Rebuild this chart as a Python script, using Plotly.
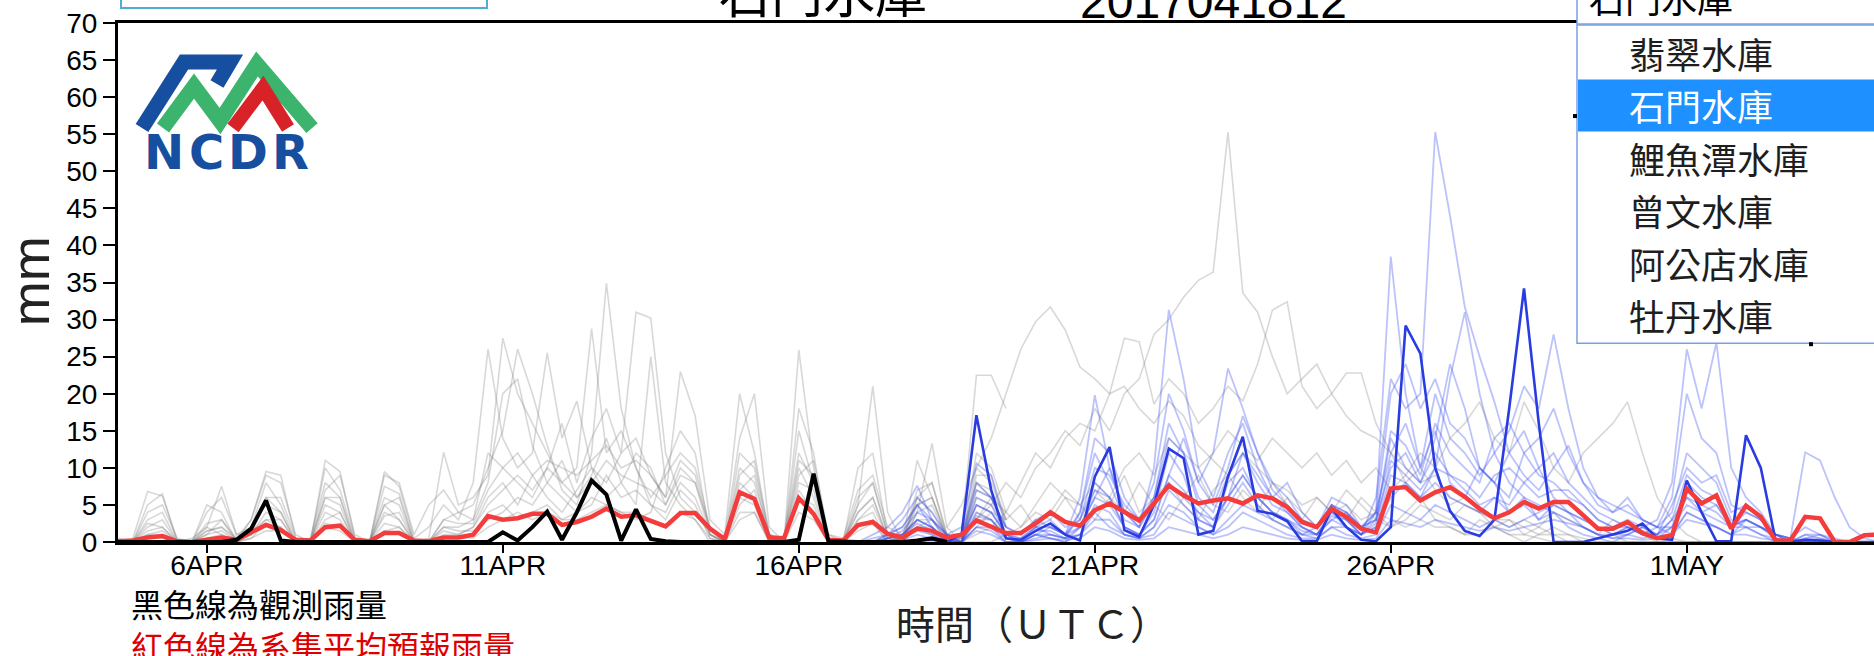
import plotly.graph_objects as go
import pandas as pd

# ---------------- data (6-hourly, starting 2017-04-04 12Z) ----------------
START = "2017-04-04 12:00"
N_STEPS = 120

OBS_BLACK = [0,0,0,0,0,0,0,0,0.3,1.8, 5.6,0.2,0,0,0,0,0,0,0,0,
             0,0,0,0,0,0,1.3,0.2,2.0,4.1, 0.3,4.0,8.3,6.4,0.2,4.4,0.4,0.1,0,0,
             0,0,0,0,0,0,0.3,9.2,0.1,0, 0,0,0,0,0.2,0.5,0]

MEAN_RED = [0.1,0.2,0.6,0.8,0.1,0,0.3,0.6,0.3,1.3,
            2.3,1.6,0.3,0.2,2.0,2.2,0.3,0.1,1.2,1.2,
            0.2,0.1,0.6,0.6,1.0,3.5,3.0,3.2,3.8,3.8,
            2.3,2.7,3.4,4.5,3.4,3.6,2.9,2.1,3.9,3.9,
            1.8,0.4,6.7,5.8,0.6,0.5,5.9,3.8,0.3,0.2,
            2.3,2.7,1.1,0.6,1.8,1.5,0.6,1.0,2.9,2.1,
            1.2,1.2,2.5,4.0,2.7,2.2,4.3,5.2,4.0,2.9,
            5.2,7.6,6.3,5.2,5.6,5.9,5.2,6.3,5.9,4.7,
            2.7,2.0,4.5,3.4,1.8,1.3,7.2,7.4,5.6,6.7,
            7.4,6.1,4.5,3.2,4.0,5.4,4.5,5.4,5.4,3.6,
            1.8,1.8,2.7,1.2,0.5,0.9,7.2,5.2,6.3,1.8,
            4.9,3.4,0.2,0.2,3.4,3.2,0,0,0.9,1.0]

# earlier forecast members (gray), steps 0..60
GRAY_EARLY_START = 0
G1 = [0,0.5,6.8,6.2,0.3,0,1.5,2,0.5,3, 9.5,9,0.5,0,11,9.5,0.5,0,9.5,7.5,
      0.5,2,5,3,8,26,14,10,12,25.5, 14,19,10,8,12,14,9,6,23,17,
      3,1,20,12,1,0.5,12,8,1,0.5, 7,9,2,1,5,6,1,0.5,5,4, 1]
G2 = [0,0,3,4,0,0.5,2,7.5,1,1, 6,4,0,0.5,8,6,0,0,6,5,
      0,0.5,12.1,5,6,9,27.5,20,16,12, 8,10,28.8,12,15,10,6,9,12,10,
      2,0.5,14,20,2,0,25.9,10,0.5,0, 10,12,1,0,11,6,0.5,1,22.5,22.5, 18]
G3 = [0.5,0,5,6.5,0,0,4,6,1,2, 8,5,0,0,10,7,0.5,0,7.5,6.5,
      0,0,3,4,5,10,15,26,20,13, 7,5,12,34.9,18,10,5,4,8,6,
      1,0,10,8,1,0,18,12,0,0, 5,21,4,0,4,13.3,2,0,8,6, 2]
G4 = [0,0,2,3,0,0,1,3,0.5,2, 6,6,0.5,0,6,5,0,0,5,3,
      0,0,2,2,3,12,10,8,6,10, 16,8,14,18,12,31,30.2,12,6,4,
      1,0,8,6,0.5,0,15,8,0,0, 4,6,0.5,0,6,4,0.5,0,12,10, 4]
G5 = [0,0,1,1.5,0,0,1,1.5,0,1, 4,3,0,0,4,3,0,0,2.5,2,
      0,0,1,1,2,6,8,5,9,6, 4,7,10,6,8,5,25,8,5,3,
      0.5,0,6,5,0,0,10,6,0,0, 3,4,0,0,3,3,0,0,6,5, 2]
G6 = [0,0,0.5,1,0,0,0.5,0.5,0,0.5, 2.5,2,0,0,2.5,2,0,0,1.5,1,
      0,0,0.5,0.5,1,4,5,3,4,5, 3,4,6,5,4,3,4,10,15,12,
      1,0,4,4,0,0,7,4,0,0, 2,3,0,0,2,2,0,0,4,3, 1]
G7 = [0,0,4,5,0.5,0,5,4,0,3, 9,8,1,0,7,9,1,0,9,8,
      1,5,7,4,3,8,20,22,13,8, 11,6,9,14,8,12,10,5,10,8,
      2,0,12,10,1,0,9,11,1,0, 6,8,1,0,7,8,1,0,10,8, 3]
G8 = [0,0,1.5,2,0,0,2,1,0,1.5, 3,2,0,0,3,4,0,0,3.5,4,
      0,0,2,1.5,1.5,3,4,6,5,8, 6,4,5,9,6,7,5,3,7,5,
      0.5,0,5,7,0.5,0,6,5,0,0, 3,5,0.5,0,4,5,0.5,0,7,6, 2]
G9 = [0,0,1,1,0,0,1.5,2,0,1, 3,3,0,0,5,4,0,0,4,3,
      0,0,1.5,1,2,5,7,9,7,10, 8,6,8,11,9,8,7,5,9,8,
      1,0,7,9,0.5,0,8,7,0,0, 4,6,0.5,0,5,6,0.5,0,8,7, 3]
G10 = [0,0,2.5,2,0,0,2.5,3,0,2, 5,4,0,0,6,6,0,0,5,6,
       0,0,3,2.5,2.5,7,10,12,9,11, 10,9,11,13,10,11,9,6,11,9,
       1.5,0,9,11,1,0,11,9,0.5,0, 5,8,1,0,6,8,1,0,9,9, 3]
G11 = [0,0,0.5,0.5,0,0,0.5,1,0,0.5, 1.5,1.5,0,0,2,1.5,0,0,1.5,2,
       0,0,0.5,0.5,0.5,2,3,4,3,4, 3,3,4,5,4,4,3,2,4,3,
       0,0,3,4,0,0,4,3,0,0, 1.5,2.5,0,0,2,3,0,0,3,3, 1]

# later gray members, steps 56..112
GRAY_LATE_START = 56
L1 = [2,5,10,14, 20,26,29.7,31.7,28.6,23.6,22,20,21,18, 16,19,17,13,11,9,12,10,8,7,
      5,6,4,5,3,4,3,2,3,2, 2,1,1,2,1,1,0.5,0,0,0, 0,0,0,0,0,0,0,0,0,0, 0,0,0]
L2 = [0,1,3,5, 8,6,10,12,15,13,18,15,20,22, 28,30,33,35.3,36.4,55.3,33.6,31,25,20,
      22,24,20,17,15,14,12,10,8,9, 6,5,4,3,3,2,1,1,0,0, 0,0,0,0,0,0,0,0,0,0, 0,0,0]
L3 = [0,0,1,2, 4,8,12,10,14,16,15,20,27.5,27, 18.6,22,20,16,18,21,19,24,31.3,32.4,
      21,18,20,22.8,22.8,16,12,8,10,7, 5,6,4,3,2,3,2,1,1,0.5, 0,0,0,0,0,0,0,0,0,0, 0,0,0]
L4 = [0,0,0,0, 1,2,4,3,6,5,8,6,10,12, 9,14,12,10,12,15,13,11,14,12,
      10,12,9,11,8,10,7,9,12,10, 14,16,18.9,14,12,18.9,15,10,8,12, 14,16,18.9,12,6,3,1,0,0,0, 0,0,0]
L5 = [0,1,3,6, 4,2,5,8,6,3,7,5,9,4, 6,8,5,3,7,9,6,4,8,5,
      3,6,4,7,5,3,2,4,6,3, 2,1,3,2,1,0,1,2,1,0, 0.5,1,0,0,0,0,0,0,0,0, 0,0,0]
L6 = [1,0,2,4, 3,5,2,4,7,5,3,6,4,8, 5,3,6,9,5,4,7,5,3,6,
      4,2,5,3,6,4,2,3,5,4, 3,5,4,2,3,1,2,4,3,2, 1,3,2,1,0,0.5,0,0,0,0, 0,0,0]

# current forecast members (blue), steps 50..119
BLUE_START = 50
B1 = [0,1,2,4,7.6,3,1,2,10.6,9, 2,1,3,2,1,3,8,6,2,1, 4,12,9,3,2,8,10,6,4,3,
      1,2,5,3,1,4,38.5,20,10,15, 8,6,10,8,4,6,3,5,4,2, 1,0.5,1,2,1,3,6,4,5,2, 3,2,0.5,0,1,1,0,0,0,0]
B2 = [0,0,1,2,5,2,0,1,8,6, 1,0,2,3,1,2,6,10,4,2, 6,16,12,5,3,6,12,8,5,4,
      2,1,4,2,1,6,22,18,20,55.3, 44,31.7,25,18.9,12,15,10,6,4,3, 2,1,2,1,0.5,2,8,6,5,2, 4,3,1,0,0,0,0,0,0,0]
B3 = [0,0.5,1,3,6,4,1,0,6,5, 1,0.5,2,1,0.5,4,12,8,3,2, 10,31.3,22,10,6,12,16,10,6,8,
      4,2,6,5,2,3,10,12,8,14, 24,18,10,8,6,12,14,18,12,8, 6,4,5,3,2,1,4,3,2,1, 2,1,0,0,0,0,0,0,0,0]
B4 = [0,0,0.5,1,3,2,0,0.5,5,4, 1,0,1,2,1,6,19.8,10,4,2, 5,8,6,4,3,6,9,6,4,3,
      2,1,3,4,2,3,14,10,8,12, 9,7,5,6,4,5,3,4,2,1, 0.5,0,1,2,3,8,26,18,26.9,10, 6,4,1,0,0,0,0,0,0,0]
B5 = [0,0,0.5,1.5,4,3,0.5,0,4,3, 0.5,0,1,0.5,0,2,6,5,2,1, 3,9,14,8,12,23.4,18,12,8,6,
      3,2,5,4,2,4,12,16,10,20, 14,12,9,12,15,21,18,28,18,10, 6,5,4,3,2,2,6,5,4,2, 3,2,1,0.5,0,0,0,0,0,0]
B6 = [0,0,0,0.5,2,1,0,0,3,2, 0.5,0,1,1,0.5,1,5,4,1,0.5, 2,7,5,3,2,5,8,5,3,2,
      1,0.5,2,2,1,2,9,8,6,10, 22,31,20,12,8,6,5,4,3,2, 1,1,2,1,0.5,1,4,3,2,1, 3,2,1,0.5,12.1,11,6,2,0.5,0]
B7 = [0,0,0.5,1,3,2,0,0,2,2, 0,0,1,0.5,0,1,3,3,1,0.5, 2,5,4,2,1,3,5,4,3,2,
      1,1,3,2,1,2,6,8,6,8, 6,5,4,6,5,8,10,12,8,6, 4,3,2,1,2,6,20,14,12,5, 4,3,1,0.5,2,1,0.5,0,0,0]
B8 = [0,0,0,0.5,1.5,1,0,0,2,1.5, 0,0,0.5,1,0.5,1,4,2,1,0.5, 1,4,3,2,1,2,4,3,2,1,
      0.5,0.5,2,1,0.5,1,5,4,3,5, 4,3,2,3,2,3,4,5,4,3, 2,1,1,0.5,1,2,5,4,3,2, 2,1,0.5,0,0.5,0.5,0,0,0,0]
B9 = [0,0,1,2,5,3,1,0.5,7,6, 2,1,3,4,2,3,10,9,5,3, 6,14,12,6,4,9,12,9,6,4,
      2,1,4,3,1,3,15,13,9,16, 12,10,8,14,16,12,9,8,6,5, 3,2,3,2,1,5,10,8,9,4, 5,3,1,0.5,0,0,0,0,0,0]
B10 = [0,0,0,1,3,2,0.5,0,5,4, 1,0.5,2,2,1,4,14,12,6,3, 8,20,15,8,5,10,17,12,7,5,
       3,2,5,4,2,4,20,24,18,22, 16,14,10,8,12,9,7,10,13,8, 5,4,6,3,2,4,12,10,8,3, 2,2,1,0,0.5,1,0,0,0,0]
B11 = [0,0,0,0.3,1,0.5,0,0,1.5,1, 0,0,0.3,0.5,0.3,0.5,2,1.5,0.5,0.3, 0.5,2,1.5,1,0.5,1,2,1.5,1,0.5,
       0.3,0.3,1,0.5,0.3,0.5,3,2.5,2,3, 2.5,2,1.5,2,1.5,2,2.5,3,2.5,2, 1,0.5,0.5,0.3,0.5,1,3,2.5,2,1, 1,0.5,0.3,0,0.3,0.3,0,0,0,0]
B12 = [0,0,0.5,1,2.5,1.5,0,0,3.5,3, 0.5,0,1.5,1.5,0.5,2,7,6,2,1, 3,9,7,4,2,6,9,6,4,3,
       1.5,1,3.5,3,1,2.5,11,9,7,10, 9,8,6,9,10,8,6,7,7,5, 3,2,2,1.5,1,3,9,7,6,2.5, 3,2,0.5,0,1,0.5,0,0,0,0]
DARK_BLUE = [0,0,0,0,0.2,0.3,0,1,17.1,7, 0.5,0.3,1.5,2.5,1,0.2,8.8,12.8,1.6,0.7,
             5,12.6,11.3,1,1.5,8.8,14.2,4.2,3.8,2.8, 0.1,0.1,4.5,2,0.3,0.1,2,29.2,25.4,10,
             4.2,1.5,0.8,3,18,34.2,16,0,0,0, 0.5,1,1.5,2.5,0.5,0.3,8.3,4,0.1,0.1,
             14.4,10,0.2,0,0.3,0.2,0,0,0,0]

TICK_DATES = ["2017-04-06", "2017-04-11", "2017-04-16", "2017-04-21", "2017-04-26", "2017-05-01"]
TICK_TEXT = ["6APR", "11APR", "16APR", "21APR", "26APR", "1MAY"]
Y_TICKS = list(range(0, 75, 5))

RESERVOIRS = ["翡翠水庫", "石門水庫", "鯉魚潭水庫", "曾文水庫", "阿公店水庫", "牡丹水庫"]
SELECTED = "石門水庫"
INIT_TIME = "2017041812"
LOGO_LETTERS = ["N", "C", "D", "R"]

# ---------------- figure ----------------
T = pd.date_range(START, periods=N_STEPS, freq="6h")

W, H = 1874, 656
L_M, T_M, B_Y = 118, 23, 541.7


def PX(px):
    return (px - L_M) / (W - L_M)


def PY(py):
    return (B_Y - py) / (B_Y - T_M)


fig = go.Figure()


def add_line(start, vals, color, width):
    fig.add_trace(go.Scatter(x=T[start:start + len(vals)], y=vals, mode="lines",
                             line=dict(color=color, width=width), hoverinfo="skip",
                             showlegend=False))


GRAY = "rgba(125,125,125,0.30)"
for g in [G1, G2, G3, G4, G5, G6, G7, G8, G9, G10, G11]:
    add_line(GRAY_EARLY_START, g, GRAY, 1.6)
for g in [L1, L2, L3, L4, L5, L6]:
    add_line(GRAY_LATE_START, g, GRAY, 1.6)
LBLUE = "rgba(60,80,240,0.34)"
for b in [B1, B2, B3, B4, B5, B6, B7, B8, B9, B10, B11, B12]:
    add_line(BLUE_START, b, LBLUE, 1.8)
add_line(BLUE_START, DARK_BLUE, "rgb(40,60,225)", 2.6)
add_line(0, MEAN_RED, "rgb(245,60,60)", 4.5)
add_line(0, OBS_BLACK, "black", 4)

x_end = pd.Timestamp(START) + pd.Timedelta(days=(W - L_M) / 59.2)

TICKFONT = dict(family="Liberation Sans, Arial", size=28, color="black")
fig.update_layout(
    width=W, height=H,
    margin=dict(l=L_M, r=0, t=T_M, b=H - B_Y),
    paper_bgcolor="white", plot_bgcolor="white",
    showlegend=False,
    xaxis=dict(type="date", range=[pd.Timestamp(START), x_end],
               tickvals=pd.to_datetime(TICK_DATES), ticktext=TICK_TEXT,
               ticks="outside", ticklen=8, tickwidth=2, tickcolor="black",
               ticklabelstandoff=-12,
               showline=True, linewidth=3, linecolor="black", mirror=True,
               showgrid=False, zeroline=False, tickfont=TICKFONT),
    yaxis=dict(range=[0, 70], tickvals=Y_TICKS,
               ticks="outside", ticklen=12, tickwidth=2, tickcolor="black",
               showline=True, linewidth=3, linecolor="black",
               showgrid=False, zeroline=False, tickfont=TICKFONT),
)

CJK = "Noto Sans CJK TC"
ann = []


def note(px, py, text, size, color="black", family=CJK, **kw):
    d = dict(xref="paper", yref="paper", x=PX(px), y=PY(py), text=text, showarrow=False,
             xanchor="center", yanchor="middle",
             font=dict(family=family, size=size, color=color))
    d.update(kw)
    ann.append(d)


note(30, 281, "mm", 54, "#222", "Liberation Sans, Arial", textangle=-90)
note(1032, 622, "時間（ＵＴＣ）", 39, "#222")
note(129, 603, "黑色線為觀測雨量", 32, "black", xanchor="left")
note(129, 645, "紅色線為系集平均預報雨量", 32, "rgb(220,0,0)", xanchor="left")
note(823, 30, SELECTED, 52, "black", yanchor="bottom")
note(1213, 30, INIT_TIME, 48, "black", "Liberation Sans, Arial", yanchor="bottom")

shapes = []


def rect(x0, y0, x1, y1, fill, line_color=None, lw=0):
    shapes.append(dict(type="rect", xref="paper", yref="paper", x0=PX(x0), x1=PX(x1),
                       y0=PY(y1), y1=PY(y0), fillcolor=fill, layer="above",
                       line=dict(color=line_color or fill, width=lw)))


# top-left input box
rect(121, -30, 487, 8, "white", "rgb(80,175,205)", 2)
# select box & open list
rect(1577, -30, 1900, 24, "white", "rgb(120,160,225)", 1.5)
rect(1577, 25, 1900, 343, "white", "rgb(120,160,225)", 1.5)
row_h = 52.4
first_c = 53
sel_i = RESERVOIRS.index(SELECTED)
rect(1578, first_c + sel_i * row_h - 26, 1900, first_c + sel_i * row_h + 26, "rgb(30,144,255)")
for i, name in enumerate(RESERVOIRS):
    note(1627, first_c + i * row_h, name, 36,
         "white" if name == SELECTED else "rgb(30,30,30)", xanchor="left")
note(1587, 25, SELECTED, 36, "black", xanchor="left", yanchor="bottom")
# small black marks
for (cx, cy) in [(1575, 116), (1811, 344)]:
    rect(cx - 2, cy - 2, cx + 2, cy + 2, "black")


def path(points):
    return "M " + " L ".join(f"{PX(a):.5f},{PY(b):.5f}" for a, b in points)


shapes.append(dict(type="path", xref="paper", yref="paper",
                   path=path([(142, 128), (184, 62), (230, 62), (217, 84)]),
                   line=dict(color="rgb(22,78,160)", width=15), layer="above"))
shapes.append(dict(type="path", xref="paper", yref="paper",
                   path=path([(163, 128), (194, 86), (220, 121), (257, 64), (312, 128)]),
                   line=dict(color="rgb(60,180,110)", width=15), layer="above"))
shapes.append(dict(type="path", xref="paper", yref="paper",
                   path=path([(233, 128), (263, 88), (288, 128)]),
                   line=dict(color="rgb(215,35,40)", width=14), layer="above"))
for k, letter in enumerate(LOGO_LETTERS):
    note(164 + 42 * k, 152, f"<b>{letter}</b>", 48, "rgb(22,78,160)", "DejaVu Sans")

fig.update_layout(annotations=ann, shapes=shapes)
fig.write_html("out.html", config={"displayModeBar": False},
               post_script="document.body.style.margin='0px';")
